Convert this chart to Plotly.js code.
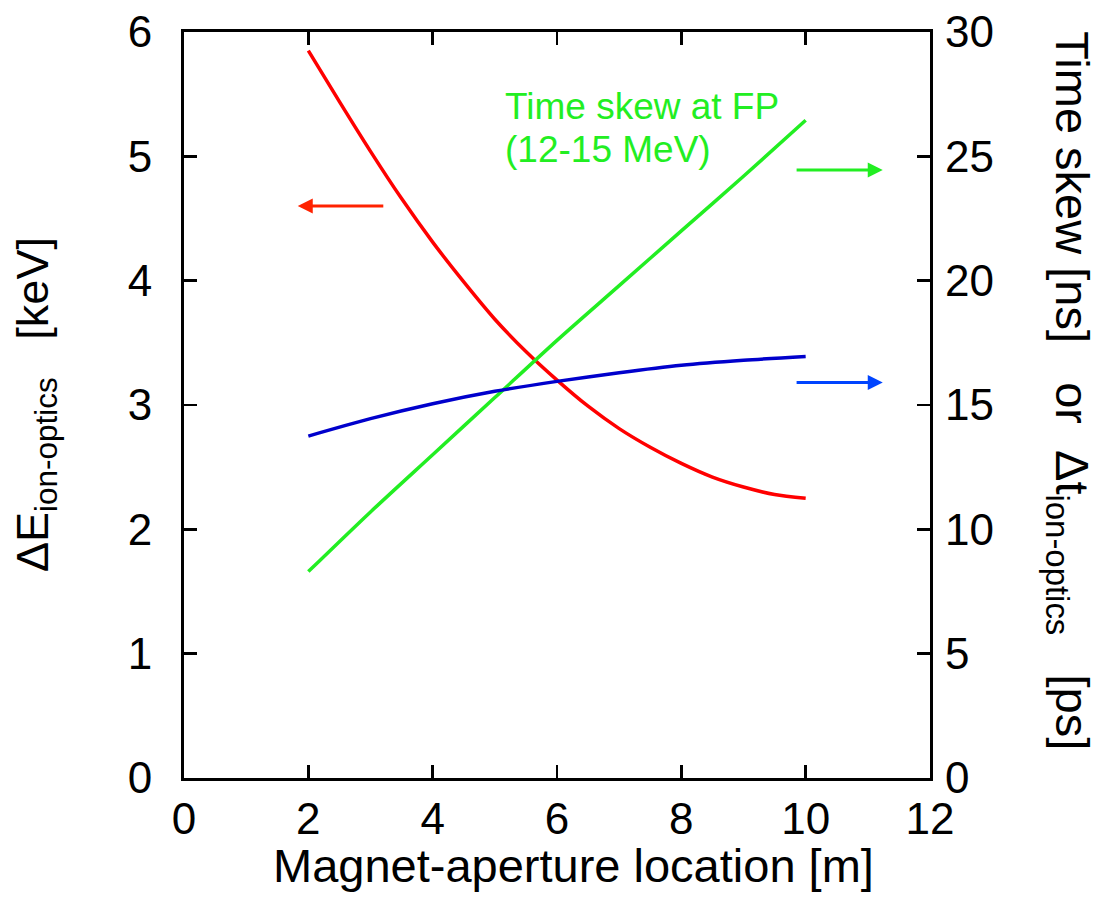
<!DOCTYPE html>
<html>
<head>
<meta charset="utf-8">
<script src="https://cdn.plot.ly/plotly-3.0.1.min.js"></script>
<style>html,body{margin:0;padding:0;background:#fff;}#chart{width:1103px;height:910px;}</style>
</head>
<body>
<div id="chart"></div>
<script>
// Magnet-aperture location [m]
const xRed = [2, 2.5, 3, 3.5, 4, 4.5, 5, 5.5, 6, 6.5, 7, 7.5, 8, 8.5, 9, 9.5, 10];
// ΔE ion-optics [keV] (left axis)
const deltaE = [5.85, 5.44, 5.04, 4.66, 4.31, 3.99, 3.69, 3.43, 3.20, 2.99, 2.81, 2.66, 2.53, 2.42, 2.34, 2.28, 2.25];

const xRight = [2, 3, 4, 5, 6, 7, 8, 9, 10];
// Time skew at FP [ns] (right axis)
const timeSkew = [8.3, 10.7, 13.0, 15.3, 17.6, 19.8, 22.0, 24.2, 26.45];
// Δt ion-optics [ps] (right axis)
const deltaT = [13.75, 14.45, 15.05, 15.55, 15.95, 16.3, 16.6, 16.8, 16.95];

const xTicks = [0, 2, 4, 6, 8, 10, 12];
const yLeftTicks = [0, 1, 2, 3, 4, 5, 6];
const yRightTicks = [0, 5, 10, 15, 20, 25, 30];

const FONT = "'Liberation Sans', Arial, Helvetica, sans-serif";
const GREEN = '#22ee22';

const traces = [
  {x: xRed, y: deltaE, type: 'scatter', mode: 'lines', line: {color: '#ff0000', width: 3.5, shape: 'spline', smoothing: 0.8}, yaxis: 'y', hoverinfo: 'skip'},
  {x: xRight, y: timeSkew, type: 'scatter', mode: 'lines', line: {color: GREEN, width: 3.5, shape: 'spline', smoothing: 0.8}, yaxis: 'y2', hoverinfo: 'skip'},
  {x: xRight, y: deltaT, type: 'scatter', mode: 'lines', line: {color: '#0000cc', width: 3.5, shape: 'spline', smoothing: 0.8}, yaxis: 'y2', hoverinfo: 'skip'}
];

const layout = {
  width: 1103, height: 910,
  margin: {l: 184, r: 173, t: 32, b: 132},
  paper_bgcolor: '#fff', plot_bgcolor: '#fff',
  showlegend: false,
  font: {family: FONT, color: '#000', size: 44},
  xaxis: {
    range: [0, 12], tickvals: xTicks, ticktext: xTicks.map(String),
    ticks: 'inside', ticklen: 13, tickwidth: 2.5, tickcolor: '#000',
    showline: true, linewidth: 3, linecolor: '#000', mirror: 'ticks',
    showgrid: false, zeroline: false, ticklabelstandoff: 0,
    tickfont: {size: 44}
  },
  yaxis: {
    range: [0, 6], tickvals: yLeftTicks, ticktext: yLeftTicks.map(String),
    ticks: 'inside', ticklen: 13, tickwidth: 2.5, tickcolor: '#000',
    showline: true, linewidth: 3, linecolor: '#000', mirror: true,
    showgrid: false, zeroline: false, ticklabelstandoff: 20,
    tickfont: {size: 44}
  },
  yaxis2: {
    range: [0, 30], tickvals: yRightTicks, ticktext: yRightTicks.map(String),
    overlaying: 'y', side: 'right',
    ticks: 'inside', ticklen: 13, tickwidth: 2.5, tickcolor: '#000',
    showline: false, showgrid: false, zeroline: false, ticklabelstandoff: 14,
    tickfont: {size: 44}
  },
  annotations: [
    {xref: 'paper', yref: 'paper', x: 0.522, y: -0.117, xanchor: 'center', yanchor: 'middle',
     showarrow: false, font: {size: 47, color: '#000'},
     text: 'Magnet-aperture location [m]'},
    {xref: 'paper', yref: 'paper', x: -0.2, y: 0.501, xanchor: 'center', yanchor: 'middle',
     textangle: -90, showarrow: false, font: {size: 45, color: '#000'},
     text: 'ΔE<sub>ion-optics</sub>\u00a0\u00a0\u00a0[keV]'},
    {xref: 'paper', yref: 'paper', x: 1.187, y: 0.519, xanchor: 'center', yanchor: 'middle',
     textangle: 90, showarrow: false, font: {size: 47, color: '#000'},
     text: 'Time skew [ns]\u00a0\u00a0\u00a0or\u00a0\u00a0Δt<sub>ion-optics</sub>\u00a0\u00a0\u00a0[ps]'},
    {xref: 'x', yref: 'y', x: 5.13, y: 5.397, xanchor: 'left', yanchor: 'middle', align: 'left',
     showarrow: false, font: {size: 37, color: GREEN}, text: 'Time skew at FP'},
    {xref: 'x', yref: 'y', x: 5.13, y: 5.051, xanchor: 'left', yanchor: 'middle', align: 'left',
     showarrow: false, font: {size: 37, color: GREEN}, text: '(12-15 MeV)'},
    {xref: 'x', yref: 'y', axref: 'x', ayref: 'y', x: 1.83, y: 4.6, ax: 3.23, ay: 4.6,
     showarrow: true, arrowhead: 2, arrowsize: 1, arrowwidth: 3, arrowcolor: '#ff2200', text: ''},
    {xref: 'x', yref: 'y2', axref: 'x', ayref: 'y2', x: 11.24, y: 24.45, ax: 9.83, ay: 24.45,
     showarrow: true, arrowhead: 2, arrowsize: 1, arrowwidth: 3, arrowcolor: GREEN, text: ''},
    {xref: 'x', yref: 'y2', axref: 'x', ayref: 'y2', x: 11.24, y: 15.9, ax: 9.83, ay: 15.9,
     showarrow: true, arrowhead: 2, arrowsize: 1, arrowwidth: 3, arrowcolor: '#0044ff', text: ''}
  ]
};

Plotly.newPlot('chart', traces, layout, {staticPlot: true, displayModeBar: false});
</script>
</body>
</html>
